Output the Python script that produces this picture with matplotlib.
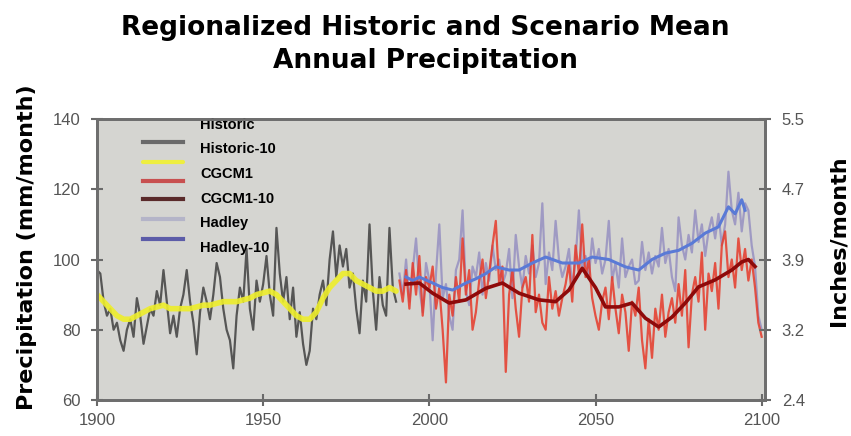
import numpy as np
import matplotlib
matplotlib.use("Agg")
import matplotlib.pyplot as plt

# ---------------- data (mm/month) ----------------
hist_years = list(range(1900, 1991))
hist_vals = [97, 96, 88, 84, 86, 80, 82, 77, 74, 80,
             83, 78, 89, 84, 76, 81, 86, 84, 91, 87,
             97, 88, 79, 84, 78, 86, 90, 97, 88, 82,
             73, 85, 92, 88, 83, 90, 99, 95, 86, 80,
             77, 69, 84, 92, 88, 103, 86, 80, 94, 88,
             93, 101, 90, 84, 109, 96, 88, 95, 83, 92,
             78, 85, 76, 70, 74, 86, 83, 90, 94, 87,
             100, 108, 95, 104, 98, 103, 92, 96, 86, 79,
             94, 88, 110, 91, 80, 95, 87, 84, 109, 92,
             88]

hist10_years = [1900, 1902, 1904, 1906, 1908, 1910, 1912, 1914, 1916, 1918,
                1920, 1922, 1924, 1926, 1928, 1930, 1932, 1934, 1936, 1938,
                1940, 1942, 1944, 1946, 1948, 1950, 1952, 1954, 1956, 1958,
                1960, 1962, 1964, 1966, 1968, 1970, 1972, 1974, 1976, 1978,
                1980, 1982, 1984, 1986, 1988, 1990]
hist10_vals = [90, 88, 86, 84, 83, 83, 84, 85, 86, 86.5,
               87, 86, 86, 86, 86, 86.5, 87, 87, 87.5, 88,
               88, 88, 88.5, 89, 90, 90.5, 91, 90, 88, 86,
               84, 83, 83, 85, 89, 92, 94, 96, 96, 94,
               93, 92, 91, 91, 92, 91]

scen_years = list(range(1991, 2101))
cgcm_vals = [94, 88, 97, 86, 99, 90, 101, 84, 95, 92,
             98, 86, 92, 80, 65, 90, 84, 95, 88, 106,
             90, 97, 80, 85, 94, 100, 89, 96, 104, 111,
             93, 98, 68, 90, 97, 86, 78, 92, 95, 88,
             107, 85, 90, 82, 80, 95, 86, 91, 84, 89,
             93, 99, 88, 104, 96, 110, 95, 100, 89, 84,
             80, 88, 92, 83, 95, 86, 79, 90, 85, 74,
             88, 84, 92, 77, 69, 83, 72, 86, 80, 90,
             78, 85, 89, 82, 93, 84, 97, 75, 90, 95,
             88, 102, 80, 96, 91, 99, 86, 104, 108, 95,
             100, 92, 106, 97, 103, 94, 100, 92, 82, 78]
hadley_vals = [96, 90, 100, 88, 97, 106, 92, 85, 99, 94,
               77, 96, 110, 89, 93, 84, 80, 97, 100, 114,
               91, 87, 98, 95, 102, 90, 99, 94, 104, 97,
               100, 93, 96, 103, 89, 107, 98, 92, 101, 96,
               104, 95, 99, 116, 93, 102, 97, 111, 100, 95,
               98, 103, 92, 100, 114, 97, 101, 95, 106, 99,
               103, 96, 100, 111, 94, 99, 92, 106, 95, 98,
               100, 93, 94, 105, 97, 102, 96, 101, 98, 109,
               99, 103, 95, 91, 112, 104, 100, 107, 102, 114,
               105, 110, 101, 108, 112, 106, 113, 104, 110, 125,
               114, 110, 119, 108, 116, 114, 104, 98, 84, 80]

cgcm10_years = [1993, 1997, 2001, 2006, 2011, 2017, 2022, 2027, 2033, 2038,
                2042, 2046, 2050, 2053, 2057, 2061, 2065, 2069, 2073, 2077,
                2081, 2086, 2091, 2094, 2096, 2098]
cgcm10_vals = [93, 93.3, 90.4, 87.6, 88.5, 91.8, 93.3, 90.4, 88.5, 88,
               91.3, 97.5, 92, 86.5, 86.5, 87.6, 83.3, 80.8, 83.6, 87.6,
               92.2, 94.2, 97, 99.3, 100, 98]

hadley10_years = [1993, 1995, 1997, 2001, 2004, 2007, 2011, 2014, 2017, 2020,
                  2024, 2027, 2031, 2035, 2040, 2045, 2049, 2054, 2059, 2063,
                  2067, 2071, 2075, 2079, 2083, 2087, 2090, 2092, 2094, 2095]
hadley10_vals = [95, 94, 95, 93.3, 92, 91.3, 93.3, 94.5, 96, 97.9,
                 97, 97, 99, 100.7, 99, 99, 100.7, 100, 97.9, 97,
                 100, 101.8, 102.6, 104.6, 107.5, 109.3, 115, 113, 117, 114]

series_labels = ["Historic", "Historic-10", "CGCM1", "CGCM1-10", "Hadley", "Hadley-10"]

left_ticks = [60, 80, 100, 120, 140]
right_tick_labels = ["2.4", "3.2", "3.9", "4.7", "5.5"]
x_ticks = [1900, 1950, 2000, 2050, 2100]

# ---------------- figure ----------------
W, H = 851, 436
fig = plt.figure(figsize=(W / 100, H / 100), dpi=100)
fig.patch.set_facecolor("white")

ax_l, ax_r, ax_t, ax_b = 97, 765, 119, 400
ax = fig.add_axes([ax_l / W, 1 - ax_b / H, (ax_r - ax_l) / W, (ax_b - ax_t) / H])
ax.set_facecolor("#d5d5d1")

c_hist = "#484848"
c_hist10 = "#eeee2a"
c_cgcm = "#e63a2a"
c_cgcm10 = "#8e0a0a"
c_had = "#9a94c2"
c_had10 = "#5a7ad6"

l_hist, = ax.plot(hist_years, hist_vals, color=c_hist, lw=1.6, alpha=0.9)
l_hist10, = ax.plot(hist10_years, hist10_vals, color=c_hist10, lw=4, alpha=0.9,
                    solid_capstyle="round")
l_had, = ax.plot(scen_years, hadley_vals, color=c_had, lw=1.6, alpha=0.9)
l_cgcm, = ax.plot(scen_years, cgcm_vals, color=c_cgcm, lw=1.6, alpha=0.85)
l_had10, = ax.plot(hadley10_years, hadley10_vals, color=c_had10, lw=2.2)
l_cgcm10, = ax.plot(cgcm10_years, cgcm10_vals, color=c_cgcm10, lw=2.6)

ax.set_xlim(1900, 2101)
ax.set_ylim(60, 140)
ax.set_xticks(x_ticks)
ax.set_yticks(left_ticks)

tick_font = dict(family=["Liberation Sans Narrow", "Liberation Sans"], size=12)
ax.set_xticklabels([str(t) for t in x_ticks], fontdict=tick_font, color="#555555")
ax.set_yticklabels([str(t) for t in left_ticks], fontdict=tick_font, color="#555555")
ax.tick_params(axis="both", direction="inout", length=8, width=1.5, color="#6a6a6a")
ax.tick_params(axis="y", pad=8)
ax.tick_params(axis="x", pad=5)

for s in ax.spines.values():
    s.set_color("#6e6e6e")
    s.set_linewidth(2)

ax2 = ax.twinx()
ax2.set_ylim(ax.get_ylim())
ax2.set_yticks(left_ticks)
ax2.set_yticklabels(right_tick_labels, fontdict=tick_font, color="#555555")
ax2.tick_params(axis="y", direction="inout", length=8, width=1.5, color="#6a6a6a", pad=8)
for s in ax2.spines.values():
    s.set_color("#6e6e6e")
    s.set_linewidth(2)

# ---------------- legend ----------------
leg_font = 10.5
leg = ax.legend([l_hist, l_hist10, l_cgcm, l_cgcm10, l_had, l_had10], series_labels,
                loc="upper left", bbox_to_anchor=((143 - ax_l) / (ax_r - ax_l), 1.005),
                frameon=False, prop=dict(family="Liberation Sans", weight="bold", size=leg_font),
                handlelength=40 * 0.72 / leg_font, handletextpad=17 * 0.72 / leg_font,
                labelspacing=0.73, borderpad=0, borderaxespad=0)
# keys sit slightly staggered against their labels
key_shift_px = [19, 13.6, 8.2, 1.8, -2.6, -8]
key_colors = ["#6a6a6a", "#eeee40", "#c85050", "#5a2a2a", "#b4b4c8", "#5c5ca8"]
for h, off, kc in zip(leg.legend_handles, key_shift_px, key_colors):
    h.set_ydata(np.asarray(h.get_ydata(), dtype=float) - off * 0.72)
    h.set_linewidth(3)
    h.set_color(kc)
    h.set_alpha(1)

# ---------------- titles / axis labels ----------------
fig.text(0.5, 1 - 44 / H, "Regionalized Historic and Scenario Mean\nAnnual Precipitation",
         ha="center", va="center", fontsize=19, fontweight="bold", family="DejaVu Sans",
         linespacing=1.35)
fig.text(27 / W, 1 - 247 / H, "Precipitation (mm/month)", rotation=90, ha="center",
         va="center", fontsize=16, fontweight="bold", family="DejaVu Sans")
fig.text(838 / W, 1 - 241 / H, "Inches/month", rotation=90, ha="center",
         va="center", fontsize=16, fontweight="bold", family="DejaVu Sans")

fig.savefig("out.png", dpi=100)
